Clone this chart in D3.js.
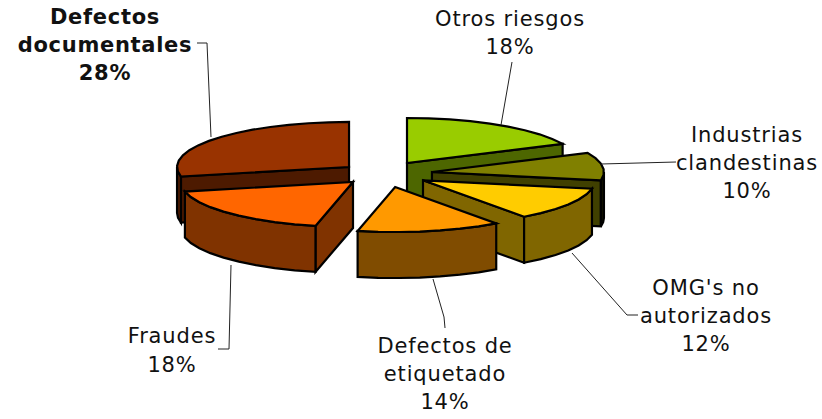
<!DOCTYPE html>
<html><head><meta charset="utf-8">
<script src="https://cdn.jsdelivr.net/npm/d3@7"></script>
<style>html,body{margin:0;background:#fff}svg{display:block}text{font-family:"DejaVu Sans",sans-serif;font-size:21px;letter-spacing:.85px;fill:#111}</style>
</head><body><svg id="c" width="822" height="419"></svg>
<script>
const categories = ["Otros riesgos","Industrias clandestinas","OMG's no autorizados","Defectos de etiquetado","Fraudes","Defectos documentales"];
const values = [18,10,12,13.5,18.1,28.4];
const labelLines = [["Otros riesgos","18%"],["Industrias","clandestinas","10%"],["OMG's no","autorizados","12%"],["Defectos de","etiquetado","14%"],["Fraudes","18%"],["Defectos","documentales","28%"]];
const topColors = ["#99cc00","#808000","#ffcc00","#ff9900","#ff6600","#993300"];
const radialColors = ["#4d6600","#404000","#806600","#804c00","#803300","#4d1a00"];
const outerColors = ["#4d6600","#111100","#806600","#804c00","#803300","#4d1a00"];
// explosion offset of each slice, in unit-circle terms
const explodeX = [.157,.302,.25,.088,-.157,-.180];
const explodeY = [-.244,-.044,.14,.289,.178,-.156];
const paintOrder = [5,0,1,2,4,3];

const x = d3.scaleLinear().domain([-1,1]).range([208,552]);
const y = d3.scaleLinear().domain([-1,1]).range([129,219]);
const depth = 46;
const svg = d3.select("#c");
const arcs = d3.pie().sort(null).startAngle(0).endAngle(2*Math.PI)(values);

function P(i,a,r=1,dz=0){
  return [x(explodeX[i]+r*Math.sin(a)), y(explodeY[i]-r*Math.cos(a))+dz];
}
function samples(a0,a1){
  const n=Math.max(2,Math.round((a1-a0)/(7*Math.PI/180)));
  return d3.range(n+1).map(k=>a0+(a1-a0)*k/n);
}
const line=d3.line();
function face(pts,fill){
  svg.append("path").attr("d",line(pts)+"Z").attr("fill",fill).attr("stroke","#000").attr("stroke-width",2.2).attr("stroke-linejoin","miter");
}
paintOrder.forEach(i=>{
  const {startAngle:a0,endAngle:a1}=arcs[i];
  const top=[P(i,0,0),...samples(a0,a1).map(a=>P(i,a))];
  if(Math.sin(a0)<0) face([P(i,0,0),P(i,a0),P(i,a0,1,depth),P(i,0,0,depth)],radialColors[i]);
  if(Math.sin(a1)>0) face([P(i,0,0),P(i,a1),P(i,a1,1,depth),P(i,0,0,depth)],radialColors[i]);
  const o0=Math.max(a0,Math.PI/2), o1=Math.min(a1,3*Math.PI/2);
  if(o1>o0){
    const s=samples(o0,o1);
    face([...s.map(a=>P(i,a)),...s.reverse().map(a=>P(i,a,1,depth))],outerColors[i]);
  }
  face(top,topColors[i]);
});

const leaderLines = [
 [[512,62],[501,125]],
 [[601,164],[676,162]],
 [[572,253],[627,315],[638,315]],
 [[433,279],[444,317],[445,328]],
 [[231,265],[229,349],[218,349]],
 [[197,43],[207,43],[211,137]]
];
leaderLines.forEach(l=>svg.append("path").attr("d",line(l)).attr("fill","none").attr("stroke","#222").attr("stroke-width",1));

const labelX=[510,747,706,445,172,105], labelY=[26,142,295,353,343,24], lh=[28,28,28,28,29,28];
labelLines.forEach((ls,i)=>{
  const t=svg.append("text").attr("text-anchor","middle").attr("font-weight",i===5?"bold":"normal").style("letter-spacing",i===5?"0.7px":null);
  ls.forEach((s,k)=>t.append("tspan").attr("x",labelX[i]).attr("y",labelY[i]+k*lh[i]).text(s));
});
</script></body></html>
